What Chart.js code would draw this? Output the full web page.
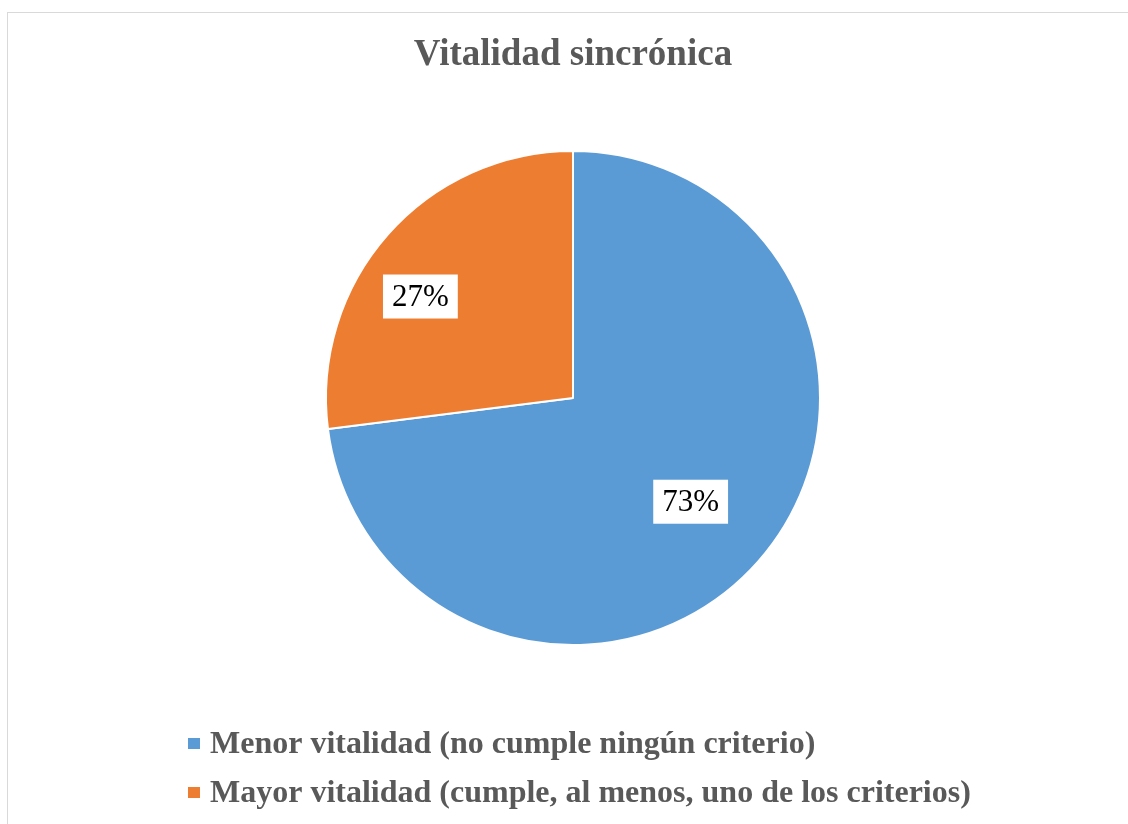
<!DOCTYPE html>
<html>
<head>
<meta charset="utf-8">
<script src="https://cdn.jsdelivr.net/npm/chart.js@4"></script>
<style>
    html, body { margin: 0; padding: 0; background: #fff; overflow: hidden; }
    #wrap { position: relative; width: 1128px; height: 824px; }
    #frame { position: absolute; left: 7px; top: 12px; width: 1200px; height: 900px; border-left: 1px solid #d9d9d9; border-top: 1px solid #d9d9d9; }
    canvas { position: absolute; left: 0; top: 0; }
</style>
</head>
<body>
<div id="wrap">
    <div id="frame"></div>
    <canvas id="vitalidadChart" width="1128" height="824"></canvas>
</div>
<script>
var categorias = ['Menor vitalidad (no cumple ningún criterio)', 'Mayor vitalidad (cumple, al menos, uno de los criterios)'];
var porcentajes = [73, 27];
var etiquetas = ['73%', '27%'];
var colores = ['#5B9BD5', '#ED7D31'];

var serif = "'Liberation Serif', 'Times New Roman', serif";

// labels in white boxes on the slices
var labelPlugin = {
    id: 'boxLabels',
    afterDatasetsDraw: function (chart, args, opts) {
        var ctx = chart.ctx;
        var meta = chart.getDatasetMeta(0);
        ctx.save();
        ctx.font = '31px ' + serif;
        ctx.textAlign = 'center';
        ctx.textBaseline = 'middle';
        meta.data.forEach(function (arc, i) {
            var p = opts.pos[i];
            var ang = arc.startAngle + (arc.endAngle - arc.startAngle) * p.t;
            var r = arc.outerRadius * p.f;
            var x = arc.x + Math.cos(ang) * r;
            var y = arc.y + Math.sin(ang) * r;
            var w = ctx.measureText(etiquetas[i]).width + 18;
            var h = 44;
            ctx.fillStyle = '#fff';
            ctx.fillRect(x - w / 2, y - h / 2, w, h);
            ctx.fillStyle = '#000';
            ctx.fillText(etiquetas[i], x, y + 1);
        });
        ctx.restore();
    }
};

// legend drawn as a left aligned block
var legendPlugin = {
    id: 'blockLegend',
    afterDraw: function (chart, args, opts) {
        var ctx = chart.ctx;
        ctx.save();
        ctx.font = 'bold ' + opts.size + 'px ' + serif;
        ctx.textBaseline = 'alphabetic';
        ctx.textAlign = 'left';
        chart.data.labels.forEach(function (lab, i) {
            var base = opts.top + i * opts.gap;
            ctx.fillStyle = colores[i];
            ctx.fillRect(opts.left, base - 15, 12, 11);
            ctx.fillStyle = '#595959';
            ctx.fillText(lab, opts.left + 22, base);
        });
        ctx.restore();
    }
};

var ctx = document.getElementById('vitalidadChart').getContext('2d');
var chart = new Chart(ctx, {
    type: 'pie',
    data: {
        labels: categorias,
        datasets: [{
            data: porcentajes,
            backgroundColor: colores,
            borderColor: '#ffffff',
            borderWidth: 2
        }]
    },
    options: {
        responsive: false,
        animation: false,
        layout: { padding: { left: 18, right: 0, top: 0, bottom: 178 } },
        plugins: {
            legend: { display: false },
            tooltip: { enabled: false },
            title: {
                display: true,
                text: 'Vitalidad sincrónica',
                color: '#595959',
                font: { family: serif, size: 37, weight: 'bold', lineHeight: 1.2 },
                padding: { top: 33, bottom: 72.6 }
            },
            boxLabels: { pos: [{ t: 0.5, f: 0.635 }, { t: 0.42, f: 0.742 }] },
            blockLegend: { left: 188, top: 753, gap: 49, size: 32 }
        }
    },
    plugins: [labelPlugin, legendPlugin]
});
</script>
</body>
</html>
